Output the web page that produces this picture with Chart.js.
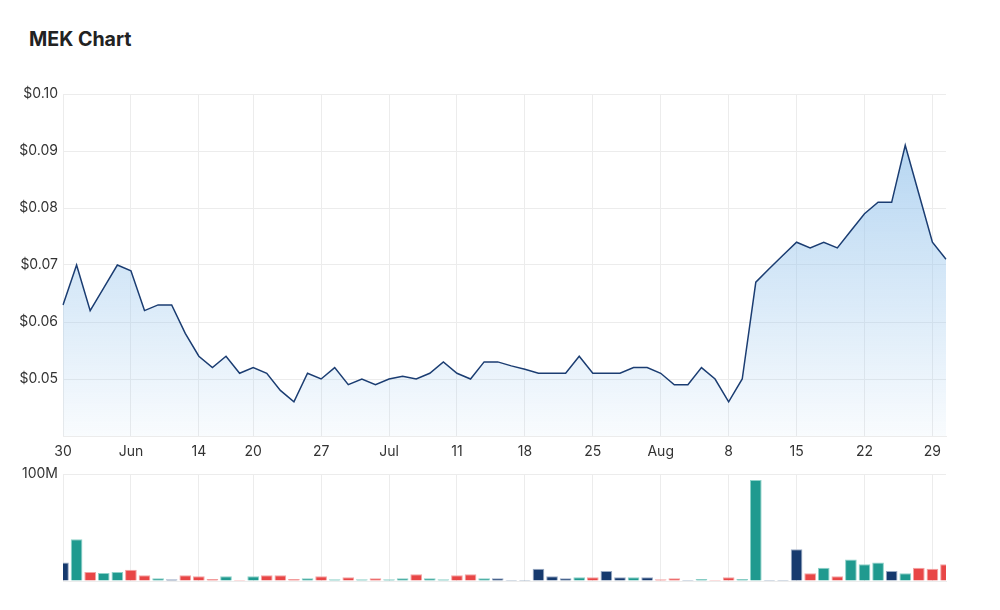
<!DOCTYPE html>
<html>
<head>
<meta charset="utf-8">
<title>MEK Chart</title>
<script src="https://cdn.jsdelivr.net/npm/chart.js@4.4.1/dist/chart.umd.min.js"></script>
<style>
    html, body {
        margin: 0;
        padding: 0;
        background: #fff;
    }
    #page {
        position: relative;
        width: 1000px;
        height: 610px;
        font-family: Inter, "Noto Sans", sans-serif;
    }
    h1 {
        position: absolute;
        left: 29px;
        top: 27px;
        margin: 0;
        font-size: 19.6px;
        font-weight: 700;
        color: #222;
    }
    #priceChart {
        position: absolute;
        left: 0;
        top: 80px;
    }
    #volumeChart {
        position: absolute;
        left: 0;
        top: 460px;
    }
</style>
</head>
<body>
<div id="page">
    <h1>MEK Chart</h1>
    <canvas id="priceChart" width="1000" height="390"></canvas>
    <canvas id="volumeChart" width="1000" height="150"></canvas>
</div>
<script>
// trading days, 30 May - 30 Aug
const dates = [
    '2022-05-30', '2022-05-31', '2022-06-01', '2022-06-02', '2022-06-03',
    '2022-06-06', '2022-06-07', '2022-06-08', '2022-06-09', '2022-06-10',
    '2022-06-14', '2022-06-15', '2022-06-16', '2022-06-17',
    '2022-06-20', '2022-06-21', '2022-06-22', '2022-06-23', '2022-06-24',
    '2022-06-27', '2022-06-28', '2022-06-29', '2022-06-30', '2022-07-01',
    '2022-07-04', '2022-07-05', '2022-07-06', '2022-07-07', '2022-07-08',
    '2022-07-11', '2022-07-12', '2022-07-13', '2022-07-14', '2022-07-15',
    '2022-07-18', '2022-07-19', '2022-07-20', '2022-07-21', '2022-07-22',
    '2022-07-25', '2022-07-26', '2022-07-27', '2022-07-28', '2022-07-29',
    '2022-08-01', '2022-08-02', '2022-08-03', '2022-08-04', '2022-08-05',
    '2022-08-08', '2022-08-09', '2022-08-10', '2022-08-11', '2022-08-12',
    '2022-08-15', '2022-08-16', '2022-08-17', '2022-08-18', '2022-08-19',
    '2022-08-22', '2022-08-23', '2022-08-24', '2022-08-25', '2022-08-26',
    '2022-08-29', '2022-08-30'
];

// closing price ($)
const closes = [
    0.063, 0.070, 0.062, 0.066, 0.070,
    0.069, 0.062, 0.063, 0.063, 0.058,
    0.054, 0.052, 0.054, 0.051,
    0.052, 0.051, 0.048, 0.046, 0.051,
    0.050, 0.052, 0.049, 0.050, 0.049,
    0.050, 0.0505, 0.050, 0.051, 0.053,
    0.051, 0.050, 0.053, 0.053, 0.0523,
    0.0517, 0.051, 0.051, 0.051, 0.054,
    0.051, 0.051, 0.051, 0.052, 0.052,
    0.051, 0.049, 0.049, 0.052, 0.050,
    0.046, 0.050, 0.067, 0.0694, 0.0717,
    0.074, 0.073, 0.074, 0.073, 0.076,
    0.079, 0.081, 0.081, 0.091, 0.0825,
    0.074, 0.071
];

// volume (millions of shares)
const volumes = [
    17.4, 39.0, 8.4, 7.5, 8.4,
    10.6, 5.3, 2.5, 1.6, 5.3,
    4.4, 1.9, 4.4, 0.9,
    4.4, 5.3, 5.3, 1.9, 2.5,
    4.4, 1.6, 3.4, 1.6, 2.5,
    1.6, 2.5, 6.2, 2.5, 1.6,
    5.3, 6.2, 2.5, 2.5, 0.9,
    0.9, 11.5, 4.4, 2.5, 3.4,
    3.4, 9.3, 3.4, 3.4, 3.4,
    1.6, 2.5, 0.9, 1.9, 0.9,
    3.4, 1.9, 94.4, 0.9, 0.9,
    29.6, 7.2, 12.5, 4.4, 20.2,
    15.6, 17.4, 9.3, 7.2, 12.5,
    11.5, 15.6
];

// day direction: u = up, d = down, f = flat
const moves = [
    'f', 'u', 'd', 'u', 'u',
    'd', 'd', 'u', 'f', 'd',
    'd', 'd', 'u', 'd',
    'u', 'd', 'd', 'd', 'u',
    'd', 'u', 'd', 'u', 'd',
    'u', 'u', 'd', 'u', 'u',
    'd', 'd', 'u', 'f', 'f',
    'f', 'f', 'f', 'f', 'u',
    'd', 'f', 'f', 'u', 'f',
    'd', 'd', 'f', 'u', 'd',
    'd', 'u', 'u', 'f', 'f',
    'f', 'd', 'u', 'd', 'u',
    'u', 'u', 'f', 'u', 'd',
    'd', 'd'
];

// x-axis tick labels
const tickDates = [
    '2022-05-30', '2022-06-06', '2022-06-14', '2022-06-20', '2022-06-27',
    '2022-07-04', '2022-07-11', '2022-07-18', '2022-07-25', '2022-08-01',
    '2022-08-08', '2022-08-15', '2022-08-22', '2022-08-29'
];
const tickLabels = ['30', 'Jun', '14', '20', '27', 'Jul', '11', '18', '25', 'Aug', '8', '15', '22', '29'];

const moveColors = { u: '#1f9a8f', d: '#e84646', f: '#163a6e' };
const moveBorders = { u: '#8ed2c9', d: '#f3a3a3', f: '#9aabc4' };

const GRID = '#ececec';
const TEXT = '#333';
const FONT = { family: 'Inter, "Noto Sans", sans-serif', size: 14 };

function labelFor(index) {
    const pos = tickDates.indexOf(dates[index]);
    return pos === -1 ? '' : tickLabels[pos];
}

function weekGrid(ctx) {
    return labelFor(ctx.index) !== '' ? GRID : 'rgba(0,0,0,0)';
}

const fixYWidth = scale => { scale.width = 63; };

// Price chart
const priceCtx = document.getElementById('priceChart').getContext('2d');
new Chart(priceCtx, {
    type: 'line',
    data: {
        labels: dates,
        datasets: [{
            data: closes,
            borderColor: '#1b3d72',
            borderWidth: 1.5,
            pointRadius: 0,
            tension: 0,
            fill: 'start',
            backgroundColor: function(context) {
                const area = context.chart.chartArea;
                if (!area) return 'rgba(160,200,236,0.5)';
                const g = context.chart.ctx.createLinearGradient(0, area.top, 0, area.bottom);
                g.addColorStop(0, 'rgba(150,196,236,0.8)');
                g.addColorStop(1, 'rgba(150,196,236,0.06)');
                return g;
            }
        }]
    },
    options: {
        responsive: false,
        animation: false,
        layout: { padding: { top: 14, right: 54, left: 0, bottom: 0 } },
        plugins: {
            legend: { display: false },
            tooltip: { enabled: false }
        },
        scales: {
            x: {
                offset: false,
                afterFit: scale => { scale.height = 34; },
                grid: { color: weekGrid, drawTicks: false, offset: false },
                border: { color: GRID },
                ticks: {
                    autoSkip: false,
                    maxRotation: 0,
                    padding: 7,
                    color: TEXT,
                    font: FONT,
                    callback: (value, index) => labelFor(index)
                }
            },
            y: {
                min: 0.04,
                max: 0.10,
                afterFit: fixYWidth,
                grid: { color: GRID, drawTicks: false },
                border: { color: GRID },
                ticks: {
                    stepSize: 0.01,
                    padding: 5,
                    color: TEXT,
                    font: FONT,
                    callback: value => value < 0.045 ? '' : '$' + value.toFixed(2)
                }
            }
        }
    }
});

// Volume chart
const volumeCtx = document.getElementById('volumeChart').getContext('2d');
new Chart(volumeCtx, {
    type: 'bar',
    data: {
        labels: dates,
        datasets: [{
            data: volumes.map(v => v * 1e6),
            backgroundColor: moves.map(m => moveColors[m]),
            borderColor: moves.map(m => moveBorders[m]),
            borderWidth: 1,
            barPercentage: 1,
            categoryPercentage: 0.86,
            clip: 0
        }]
    },
    options: {
        responsive: false,
        animation: false,
        layout: { padding: { top: 14, right: 54, left: 0, bottom: 29 } },
        plugins: {
            legend: { display: false },
            tooltip: { enabled: false }
        },
        scales: {
            x: {
                offset: false,
                afterFit: scale => { scale.height = 0; },
                grid: { color: weekGrid, drawTicks: false, offset: false },
                border: { color: GRID },
                ticks: { display: false }
            },
            y: {
                min: 0,
                max: 100000000,
                afterFit: fixYWidth,
                grid: { color: GRID, drawTicks: false },
                border: { color: GRID },
                ticks: {
                    stepSize: 100000000,
                    padding: 5,
                    color: TEXT,
                    font: FONT,
                    callback: value => value === 0 ? '' : (value / 1e6) + 'M'
                }
            }
        }
    }
});
</script>
</body>
</html>
